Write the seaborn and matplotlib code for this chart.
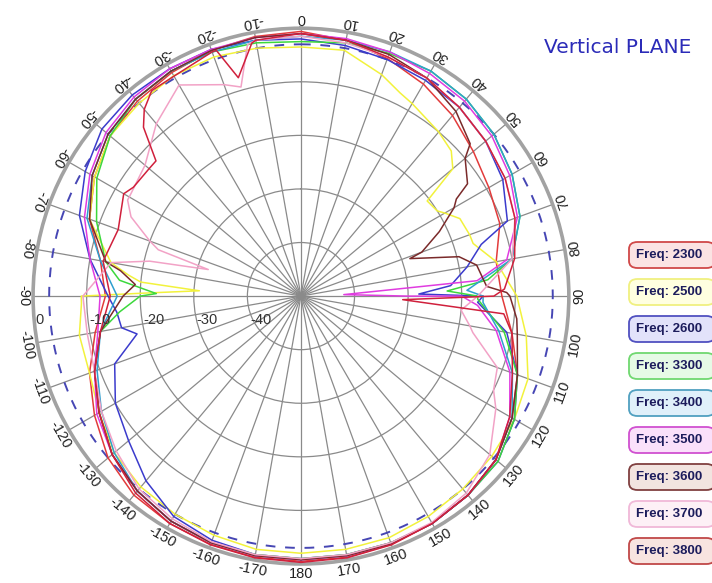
import numpy as np
import pandas as pd
import matplotlib
matplotlib.use("Agg")
import matplotlib.pyplot as plt
from matplotlib.patches import FancyBboxPatch
import seaborn as sns

# ---------------------------------------------------------------
# Date: diagrama de radiatie, plan vertical (dB vs unghi)
# ---------------------------------------------------------------
ANG = list(range(-180, 181, 10))

DB_2300 = [-0.5, -0.5, -0.7, -1.0, -1.5, -3.0, -5.5, -8.0, -11.0, -13.5, -12.0, -8.0, -5.5,
           -3.5, -2.5, -1.8, -1.2, -0.8, -0.6, -1.5, -2.8, -4.3, -6.0, -8.0, -9.5, -10.5,
           -13.0, -12.5, -10.0, -7.0, -4.5, -2.5, -1.5, -1.0, -0.7, -0.5, -0.5]
DB_2500 = [-2.0, -2.0, -2.5, -3.0, -3.5, -4.5, -6.5, -8.0, -8.0, -9.0, -14.0, -8.0, -5.5,
           -3.5, -3.0, -2.5, -2.5, -3.0, -3.5, -3.4, -6.0, -8.5, -10.0, -13.0, -19.0, -16.5,
           -13.0, -9.7, -7.3, -4.9, -4.0, -3.5, -3.0, -2.5, -2.0, -2.0, -2.0]
DB_2600 = [-1.0, -1.0, -1.5, -2.5, -5.0, -8.0, -10.0, -13.0, -16.0, -14.0, -10.0, -6.0, -3.5,
           -1.5, -1.0, -1.0, -1.0, -1.5, -2.0, -2.5, -3.0, -3.5, -4.0, -5.0, -6.5, -9.0,
           -18.5, -16.0, -11.0, -7.0, -4.0, -2.0, -1.5, -1.0, -1.0, -1.0, -1.0]
DB_3300 = [-1.0, -1.0, -1.0, -1.5, -2.5, -4.0, -6.5, -9.0, -12.0, -20.0, -13.0, -9.4, -6.0,
           -3.5, -2.0, -1.5, -1.5, -2.0, -2.5, -2.0, -1.8, -1.5, -2.0, -3.0, -4.5, -6.5,
           -10.0, -17.0, -11.5, -7.0, -4.0, -2.0, -1.5, -1.0, -1.0, -1.0, -1.0]
DB_3400 = [-0.8, -0.8, -1.0, -1.5, -2.5, -4.5, -7.0, -9.5, -12.0, -15.7, -12.0, -7.5, -5.0,
           -3.0, -2.0, -1.5, -1.5, -1.5, -1.5, -1.5, -1.5, -1.5, -2.0, -3.0, -4.5, -6.5,
           -10.0, -16.0, -12.5, -8.0, -4.5, -2.5, -1.5, -1.0, -0.8, -0.8, -0.8]
DB_3500 = [-0.8, -0.8, -1.0, -1.5, -2.5, -4.0, -6.0, -9.0, -11.5, -12.5, -10.0, -7.0, -4.5,
           -2.5, -1.5, -1.0, -1.0, -1.0, -1.0, -1.2, -1.5, -2.0, -2.5, -3.5, -5.0, -7.0,
           -11.0, -20.0, -13.0, -8.5, -5.0, -2.5, -1.5, -1.0, -0.8, -0.8, -0.8]
DB_3600 = [-0.8, -0.8, -1.0, -1.5, -2.5, -4.0, -6.5, -9.0, -12.0, -16.8, -13.0, -8.0, -5.0,
           -3.0, -2.0, -1.5, -1.2, -1.0, -1.0, -1.5, -2.0, -3.0, -5.0, -10.0, -17.0, -26.0,
           -16.7, -11.0, -9.0, -7.0, -4.5, -2.5, -1.5, -1.0, -0.8, -0.8, -0.8]
DB_3700 = [-1.0, -1.0, -1.2, -2.0, -3.0, -5.0, -7.0, -9.0, -9.5, -9.3, -14.0, -20.0, -13.0,
           -12.0, -8.0, -4.5, -8.0, -1.5, -1.5, -2.0, -2.5, -3.0, -4.0, -5.0, -6.0, -7.5,
           -10.0, -17.0, -18.0, -11.0, -8.0, -4.0, -2.0, -1.2, -1.0, -1.0, -1.0]
DB_3800 = [-0.3, -0.4, -0.6, -1.0, -2.0, -4.0, -6.5, -9.0, -12.0, -14.4, -12.5, -13.7, -11.8,
           -13.0, -4.5, -2.6, -1.5, -1.5, -1.0, -1.5, -2.5, -3.0, -4.0, -5.0, -6.0, -7.5,
           -9.5, -14.0, -10.0, -8.0, -5.0, -2.5, -1.5, -1.0, -0.6, -0.4, -0.3]

# puncte suplimentare (nuluri inguste)
EXT_ANG_2300, EXT_DB_2300 = [], []
EXT_ANG_2500 = [-92, -89, -87, -85, -83, 26, 46, 53, 58, 64, 73, 82]
EXT_DB_2500 = [-9.0, -20.0, -31.0, -20.0, -17.5, -7.8, -11.0, -20.5, -20.0, -17.0, -16.4, -12.5]
EXT_ANG_2600 = [-103, -95, 74, 86, 89, 92]
EXT_DB_2600 = [-18.6, -15.5, -15.0, -22.0, -28.0, -17.0]
EXT_ANG_3300 = [-95, -89, -85, 85, 88, 91]
EXT_DB_3300 = [-16.0, -23.0, -16.0, -15.0, -22.7, -17.0]
EXT_ANG_3400 = [88, 92]
EXT_DB_3400 = [-19.0, -16.0]
EXT_ANG_3500 = [85, 88, 90, 93]
EXT_DB_3500 = [-17.0, -42.0, -30.0, -17.0]
EXT_ANG_3600 = [-86, -82, 48, 56, 58, 65, 71, 76, 87, 89, 96]
EXT_DB_3600 = [-19.0, -16.0, -7.5, -12.5, -15.8, -21.5, -28.5, -19.6, -15.3, -11.6, -9.5]
EXT_ANG_3700 = [-77, -74, -72, -65, -61, -16, -12, 95, 102, 116]
EXT_DB_3700 = [-21.0, -32.0, -22.0, -15.0, -13.0, -9.4, -2.0, -20.0, -17.2, -10.0]
EXT_ANG_3800 = [-57, -47, -43, -36, -19, -16, -11, 88, 92, 95]
EXT_DB_3800 = [-12.7, -13.0, -6.9, -2.6, -1.5, -7.6, -1.9, -12.0, -31.0, -12.0]

FREQS = ["2300", "2500", "2600", "3300", "3400", "3500", "3600", "3700", "3800"]
REF_DB = -3
R_MIN, R_MAX = -50, 0
RINGS = [-40, -30, -20, -10]

# culori linii / legenda
LINE_COL = {"2300": "#e23b3b", "2500": "#f2f23c", "2600": "#3b3bcc", "3300": "#3cd83c",
            "3400": "#2f9fcf", "3500": "#e03ce0", "3600": "#7a2a2a", "3700": "#f2a2c6",
            "3800": "#d0203c"}
BOX_FILL = {"2300": "#fbe3e3", "2500": "#ffffe0", "2600": "#e2e2fa", "3300": "#e6fae6",
            "3400": "#e0f0fa", "3500": "#fae0fa", "3600": "#f2e4e0", "3700": "#fdf0f6",
            "3800": "#f8e4e0"}
BOX_EDGE = {"2300": "#d04848", "2500": "#f0f080", "2600": "#5050c0", "3300": "#70d870",
            "3400": "#50a0c0", "3500": "#d050d0", "3600": "#804040", "3700": "#f0b8d8",
            "3800": "#c04848"}

data = {
    "2300": (DB_2300, EXT_ANG_2300, EXT_DB_2300),
    "2500": (DB_2500, EXT_ANG_2500, EXT_DB_2500),
    "2600": (DB_2600, EXT_ANG_2600, EXT_DB_2600),
    "3300": (DB_3300, EXT_ANG_3300, EXT_DB_3300),
    "3400": (DB_3400, EXT_ANG_3400, EXT_DB_3400),
    "3500": (DB_3500, EXT_ANG_3500, EXT_DB_3500),
    "3600": (DB_3600, EXT_ANG_3600, EXT_DB_3600),
    "3700": (DB_3700, EXT_ANG_3700, EXT_DB_3700),
    "3800": (DB_3800, EXT_ANG_3800, EXT_DB_3800),
}

sns.set_theme(style="white")
plt.rcParams["font.family"] = ["Liberation Sans", "DejaVu Sans"]

fig = plt.figure(figsize=(7.12, 5.83), dpi=100)
ax = fig.add_axes([0.0463, 0.0326, 0.7528, 0.919], projection="polar")
ax.set_theta_zero_location("N")
ax.set_theta_direction(-1)

# cerc de referinta -3 dB
th_ref = np.linspace(0, 2 * np.pi, 361)
ax.plot(th_ref, np.full_like(th_ref, REF_DB), color="#4646b4", lw=1.4,
        dashes=(5, 5), zorder=2)

for f in FREQS:
    base, ea, ed = data[f]
    df = pd.DataFrame({"ang": ANG + ea, "db": base + ed}).sort_values("ang")
    df["theta"] = np.deg2rad(df["ang"])
    sns.lineplot(data=df, x="theta", y="db", ax=ax, sort=False, estimator=None,
                 color=LINE_COL[f], lw=1.1, zorder=3)

ax.set_ylim(R_MIN, R_MAX)
ax.set_rgrids(RINGS, labels=[])
ax.set_thetagrids(np.arange(0, 360, 10), labels=[])
ax.grid(True, color="#8a8a8a", lw=0.9)
ax.spines["polar"].set_color("#a2a2a2")
ax.spines["polar"].set_linewidth(2.6)
ax.set_xlabel("")
ax.set_ylabel("")

# etichete unghiulare (tangente la cerc)
for deg in range(-170, 190, 10):
    ax.text(np.deg2rad(deg), 1.9, str(deg), rotation=180 - deg, rotation_mode="anchor",
            ha="center", va="center", fontsize=10.5, color="#222222", clip_on=False)

# etichete radiale
for r in [0] + RINGS[::-1]:
    ax.annotate(str(r), xy=(np.deg2rad(-90), r), xytext=(2, -17),
                textcoords="offset points", ha="left", va="center",
                fontsize=10.5, color="#333333")

fig.text(0.867, 0.919, "Vertical PLANE", ha="center", va="center",
         fontsize=14.5, color="#2b2bb8", family=["DejaVu Sans"])

# legenda: casete rotunjite
y0 = 255
for i, f in enumerate(FREQS):
    yc = y0 + i * 37
    box = FancyBboxPatch((629 / 712, 1 - (yc + 13) / 583), 86 / 712, 26 / 583,
                         boxstyle="round,pad=0,rounding_size=0.012",
                         transform=fig.transFigure, fc=BOX_FILL[f], ec=BOX_EDGE[f],
                         lw=1.3, clip_on=False)
    fig.patches.append(box)
    fig.text(669 / 712, 1 - yc / 583, "Freq: " + f, ha="center", va="center",
             fontsize=9.5, fontweight="bold", color="#1c1c5c")

plt.savefig("out.png", dpi=100)
